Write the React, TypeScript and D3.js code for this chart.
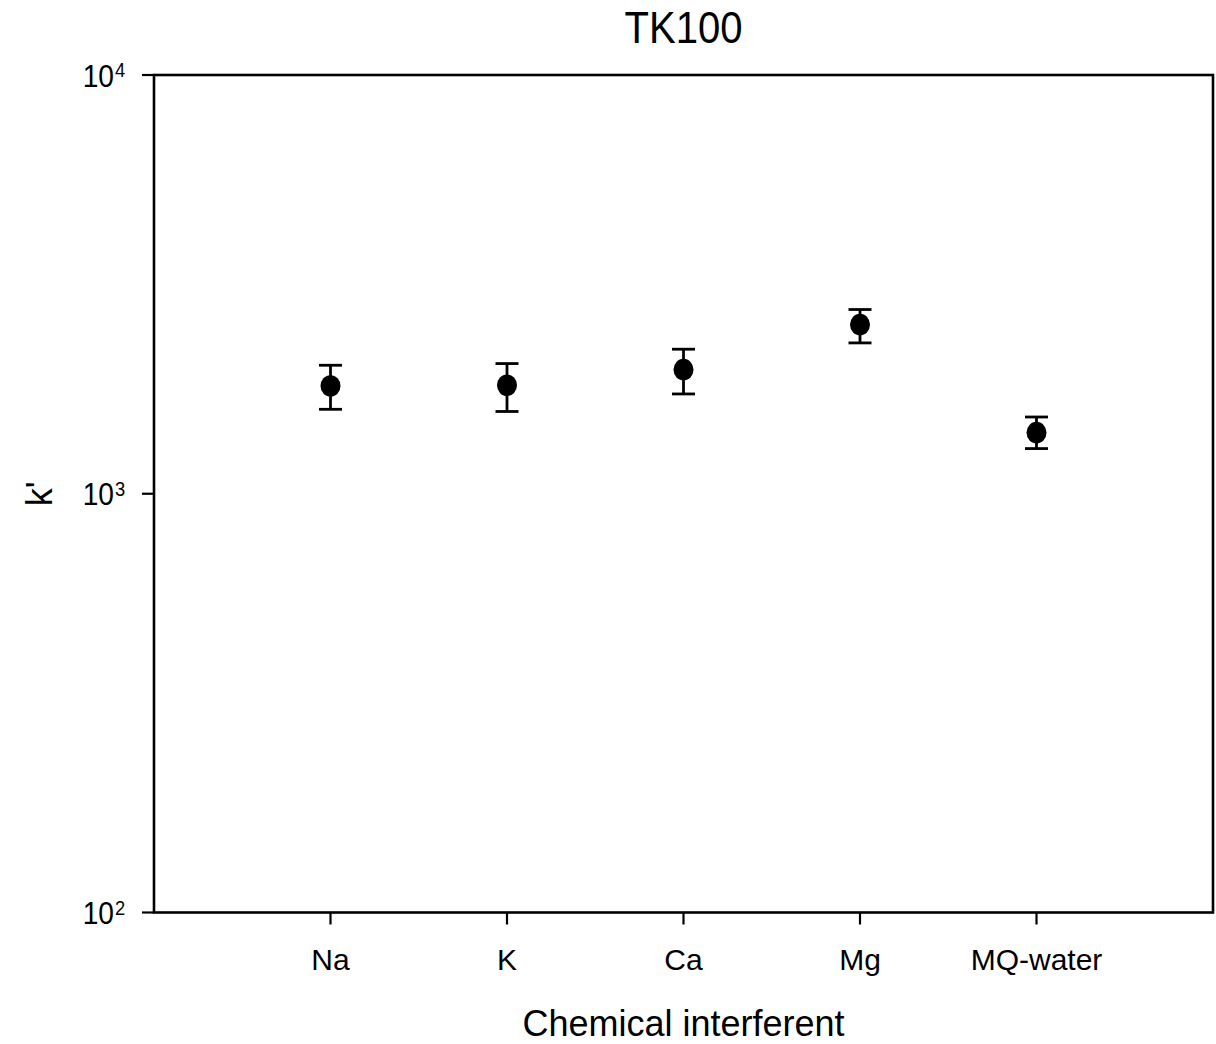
import React from "react";
import * as d3 from "d3";

const categories = ["Na", "K", "Ca", "Mg", "MQ-water"];
const means = [1809, 1816, 1980, 2536, 1400];
const upper = [2027, 2046, 2214, 2754, 1525];
const lower = [1591, 1572, 1731, 2292, 1282];
const yTicks = [100, 1000, 10000];
const yTickExp = ["2", "3", "4"];

const W = 1216;
const H = 1044;
const left = 154;
const right = 1213;
const top = 75;
const bottom = 912.5;
const font = "'Liberation Sans', Arial, sans-serif";

export default function App() {
  const x = d3.scaleLinear().domain([0, categories.length + 1]).range([left, right]);
  const y = d3.scaleLog().domain([100, 10000]).range([bottom, top]);
  const cap = 11.5;
  return (
    <svg width={W} height={H} style={{ position: "absolute", left: 0, top: 0, background: "#fff" }}>
      <rect x={0} y={0} width={W} height={H} fill="#fff" />
      <text transform={`translate(${(left + right) / 2},43) scale(0.91,1)`} textAnchor="middle" fontFamily={font} fontSize={44}>TK100</text>
      <rect x={left} y={top} width={right - left} height={bottom - top} fill="none" stroke="#000" strokeWidth={2.6} />
      {yTicks.map((t, i) => (
        <g key={t}>
          <line x1={left - 12} x2={left} y1={y(t)} y2={y(t)} stroke="#000" strokeWidth={2.2} />
          <text transform={`translate(114,${y(t) + 11.5}) scale(0.88,1)`} textAnchor="end" fontFamily={font} fontSize={32}>10</text>
          <text transform={`translate(115,${y(t) + 2}) scale(0.92,1)`} textAnchor="start" fontFamily={font} fontSize={20}>{yTickExp[i]}</text>
        </g>
      ))}
      {categories.map((c, i) => (
        <g key={c}>
          <line x1={x(i + 1)} x2={x(i + 1)} y1={bottom} y2={bottom + 12} stroke="#000" strokeWidth={2.2} />
          <text x={x(i + 1)} y={bottom + 57} textAnchor="middle" fontFamily={font} fontSize={30}>{c}</text>
        </g>
      ))}
      {categories.map((c, i) => {
        const cx = x(i + 1);
        return (
          <g key={"p" + c}>
            <line x1={cx} x2={cx} y1={y(upper[i])} y2={y(lower[i])} stroke="#000" strokeWidth={2.8} />
            <line x1={cx - cap} x2={cx + cap} y1={y(upper[i])} y2={y(upper[i])} stroke="#000" strokeWidth={2.8} />
            <line x1={cx - cap} x2={cx + cap} y1={y(lower[i])} y2={y(lower[i])} stroke="#000" strokeWidth={2.8} />
            <ellipse cx={cx} cy={y(means[i])} rx={10} ry={10.8} fill="#000" />
          </g>
        );
      })}
      <text x={(left + right) / 2} y={1036} textAnchor="middle" fontFamily={font} fontSize={36}>Chemical interferent</text>
      <text transform={`translate(52,${(top + bottom) / 2}) rotate(-90)`} textAnchor="middle" fontFamily={font} fontSize={36}>k'</text>
    </svg>
  );
}
